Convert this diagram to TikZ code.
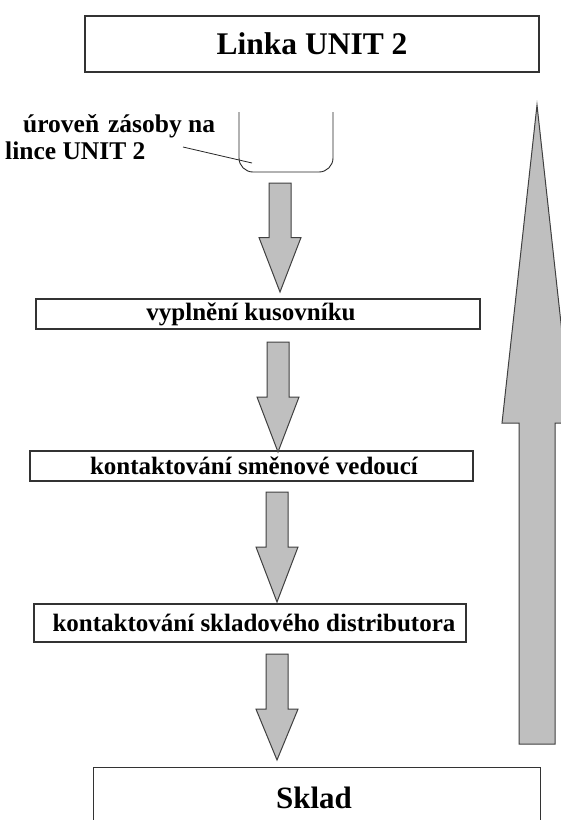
\documentclass[tikz,border=0pt]{standalone}
\usepackage{fontspec}
\setmainfont{Liberation Serif}
\usetikzlibrary{calc}

% block arrow from the start of its shaft (#1) to its tip (#2);
% #3 = half shaft width, #4 = half head width, #5 = where the head starts (fraction)
\newcommand\blockarrowpath[5]{%
  \draw[blockarrow]
    ($(#1)+(-#3,0)$) -- ($(#1)+(#3,0)$)
    -- ($(#1)!#5!(#2)+(#3,0)$) -- ($(#1)!#5!(#2)+(#4,0)$)
    -- (#2)
    -- ($(#1)!#5!(#2)+(-#4,0)$) -- ($(#1)!#5!(#2)+(-#3,0)$)
    -- cycle;}

\begin{document}
\begin{tikzpicture}[x=1pt,y=-1pt,
  frame/.style={draw=black!80, line width=1.3pt, fill=white, inner sep=0pt},
  stepbox/.style={frame, font=\fontsize{25}{29}\selectfont\bfseries},
  bigbox/.style={frame, font=\fontsize{31.5}{35}\selectfont\bfseries},
  openbox/.style={inner sep=0pt, font=\fontsize{31}{35}\selectfont\bfseries},
  note/.style={inner sep=0pt, anchor=base west, font=\fontsize{25.5}{29}\selectfont\bfseries},
  blockarrow/.style={draw=black!75, line width=1pt, fill=black!25, line join=miter},
  thinline/.style={draw=black!85, line width=0.9pt}]

\clip (0,0) rectangle (561,820);
\fill[white] (0,0) rectangle (561,820);

% big return arrow on the right
\coordinate (retfoot) at (537,744);
\coordinate (rettip) at (537,105);
\blockarrowpath{retfoot}{rettip}{18}{35}{0.502}

% production line
\node[bigbox, minimum width=454pt, minimum height=56pt] (linka) at (312,44) {Linka UNIT 2};

% stock container on the line
\draw[thinline, rounded corners=14pt] (239,112) -- (239,172) -- (333,172) -- (333,112);
\node[note] (lbl1) at (23,132) {úroveň\hspace{0.35em}zásoby na};
\node[note] (lbl2) at (5,159) {lince UNIT 2};
\coordinate (leadA) at (183,147);
\coordinate (leadB) at (252,163);
\draw[thinline, line width=0.8pt] (leadA) -- (leadB);

% process steps
\node[stepbox, minimum width=444pt, minimum height=30pt] (kus) at (258,314) {vyplnění kusovníku\hspace*{14pt}};
\node[stepbox, minimum width=443pt, minimum height=30pt] (smen) at (251.5,466) {\hspace*{5pt}kontaktování směnové vedoucí};
\node[stepbox, minimum width=432pt, minimum height=38pt] (dist) at (250,623) {\hspace*{8pt}kontaktování skladového distributora};

% warehouse (open at the bottom)
\node[openbox, minimum width=446pt, minimum height=60pt] (sklad) at (317,798) {Sklad\hspace*{6pt}};
\draw[frame, fill=none] (sklad.south west) -- (sklad.north west) -- (sklad.north east) -- (sklad.south east);

% flow arrows
\coordinate (a1top) at (280,183);  \coordinate (a1tip) at (280,292);
\coordinate (a2top) at (278,342);  \coordinate (a2tip) at (278,452);
\coordinate (a3top) at (277,492);  \coordinate (a3tip) at (277,602);
\coordinate (a4top) at (277,654);  \coordinate (a4tip) at (277,760);
\blockarrowpath{a1top}{a1tip}{11}{21}{0.5}
\blockarrowpath{a2top}{a2tip}{11}{21}{0.5}
\blockarrowpath{a3top}{a3tip}{11}{21}{0.5}
\blockarrowpath{a4top}{a4tip}{11}{21}{0.52}
\end{tikzpicture}
\end{document}
